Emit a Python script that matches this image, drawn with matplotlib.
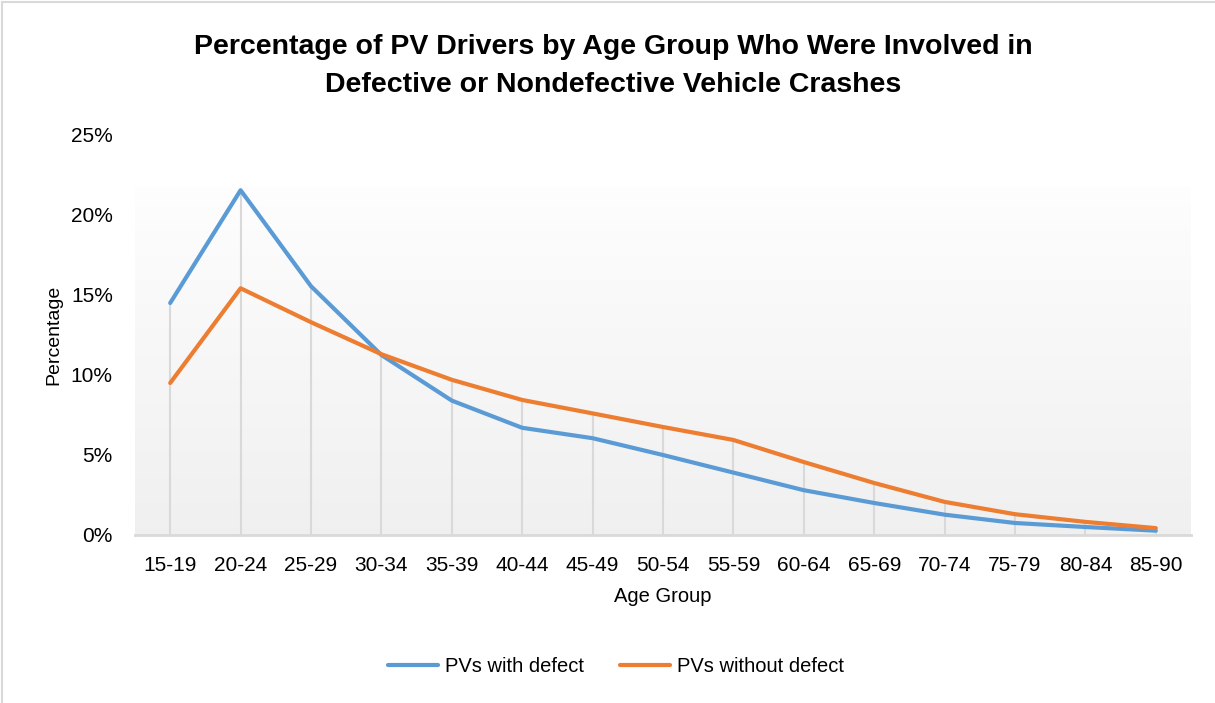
import numpy as np
import matplotlib
matplotlib.use("Agg")
import matplotlib.pyplot as plt
from matplotlib import font_manager
from matplotlib.lines import Line2D

age_groups = ["15-19", "20-24", "25-29", "30-34", "35-39", "40-44", "45-49", "50-54",
              "55-59", "60-64", "65-69", "70-74", "75-79", "80-84", "85-90"]
with_defect = [14.5, 21.55, 15.55, 11.25, 8.4, 6.7, 6.05, 5.0, 3.9, 2.8, 2.0, 1.27, 0.75, 0.5, 0.27]
without_defect = [9.5, 15.42, 13.3, 11.3, 9.7, 8.44, 7.6, 6.75, 5.94, 4.56, 3.25, 2.07, 1.3, 0.82, 0.43]
y_ticks = [0, 5, 10, 15, 20, 25]
y_tick_labels = ["0%", "5%", "10%", "15%", "20%", "25%"]

names = {f.name for f in font_manager.fontManager.ttflist}
narrow = "Liberation Sans Narrow" if "Liberation Sans Narrow" in names else "Liberation Sans"
plt.rcParams['font.family'] = [narrow, "DejaVu Sans"]

fig = plt.figure(figsize=(12.15, 7.03), dpi=100)
W, H = 1215, 703
ax = fig.add_axes([135 / W, 1 - 535 / H, (1191 - 135) / W, (535 - 135) / H])

x = np.arange(len(age_groups))
ax.set_xlim(-0.5, len(age_groups) - 0.5)
ax.set_ylim(0, 25)

# gradient background in plot area
grad = np.linspace(0, 1, 256).reshape(-1, 1)
top_c = np.array([0.995, 0.995, 0.995])
bot_c = np.array([0.94, 0.94, 0.94])
img = top_c * (1 - grad)[..., None] + bot_c * grad[..., None]
img = img.reshape(256, 1, 3)
ax.imshow(img, extent=[-0.5, len(age_groups) - 0.5, 0, 21.75], aspect='auto', zorder=0,
          origin='upper')

# drop lines
tops = np.maximum(with_defect, without_defect)
ax.vlines(x, 0, tops, color="#d9d9d9", linewidth=1.5, zorder=1)

ax.plot(x, with_defect, color="#5b9bd5", linewidth=3, solid_capstyle='round',
        solid_joinstyle='round', label="PVs with defect", zorder=3)
ax.plot(x, without_defect, color="#ed7d31", linewidth=3, solid_capstyle='round',
        solid_joinstyle='round', label="PVs without defect", zorder=3)

ax.set_xticks(x)
ax.set_xticklabels(age_groups, fontsize=15)
ax.set_yticks(y_ticks)
ax.set_yticklabels(y_tick_labels, fontsize=15)
ax.tick_params(length=0)
ax.tick_params(axis='x', pad=15)
ax.tick_params(axis='y', pad=16)

for s in ["top", "right", "left"]:
    ax.spines[s].set_visible(False)
ax.spines["bottom"].set_color("#d9d9d9")
ax.spines["bottom"].set_linewidth(2)
ax.spines["bottom"].set_zorder(2)

ax.set_xlabel("Age Group", fontsize=14.5, labelpad=9)
ax.set_ylabel("Percentage", fontsize=14, labelpad=6)

fig.text(0.505, 1 - 66 / H, "Percentage of PV Drivers by Age Group Who Were Involved in\nDefective or Nondefective Vehicle Crashes",
         ha='center', va='center', fontsize=20.5, fontweight='bold', linespacing=1.55)

fig.legend(loc='center', bbox_to_anchor=(0.507, 1 - 667 / H), ncol=2, frameon=False,
           fontsize=14.5, handlelength=2.5, columnspacing=1.75, handletextpad=0.35)

# figure border (top and left)
fig.add_artist(Line2D([2 / W, 2 / W], [0, 1 - 2 / H], transform=fig.transFigure, color="#d9d9d9", linewidth=1.5))
fig.add_artist(Line2D([2 / W, 1], [1 - 2 / H, 1 - 2 / H], transform=fig.transFigure, color="#d9d9d9", linewidth=1.5))

fig.savefig("out.png", dpi=100)
